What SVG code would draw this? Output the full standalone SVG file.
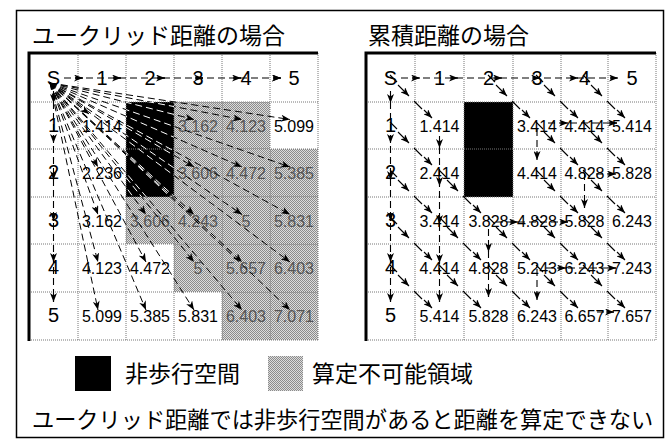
<svg xmlns="http://www.w3.org/2000/svg" xmlns:xlink="http://www.w3.org/1999/xlink" width="669" height="440" viewBox="0 0 669 440">
<style>
.jp{font-family:"Noto Sans CJK JP",sans-serif;fill:#000}
.lbl{font-family:"Liberation Sans",Arial,sans-serif;font-size:20px;text-anchor:middle;fill:#000}
.num{font-family:"Liberation Sans",Arial,sans-serif;font-size:16px;text-anchor:middle;fill:#000}
.g{fill:#555}
.dot{stroke:#777;stroke-width:1;stroke-dasharray:1 1;fill:none}
.thick{stroke:#000;stroke-width:3;fill:none}
.dash{stroke:#000;stroke-width:1.1;stroke-dasharray:7 4;fill:none}
.ah{stroke:#000;stroke-width:1.1;fill:none;marker-end:url(#ah)}
.sol{stroke:#000;stroke-width:1.1;fill:none}
</style>
<defs>
<marker id="ah" viewBox="0 0 9 7" refX="9" refY="3.5" markerWidth="9" markerHeight="7" markerUnits="userSpaceOnUse" orient="auto"><path d="M0,0 L9,3.5 L0,7 L2.5,3.5 Z" fill="#000"/></marker>
<pattern id="gp" width="2" height="2" patternUnits="userSpaceOnUse"><rect width="2" height="2" fill="#dcdcdc"/><rect width="1" height="1" fill="#8c8c8c"/><rect x="1" y="1" width="1" height="1" fill="#8c8c8c"/></pattern>
<clipPath id="blkL"><rect x="126" y="102" width="48" height="95"/></clipPath>
<g id="dg">
<path class="sol" d="M-25-27L-18-20M-1-1L7 7"/>
<path class="ah" d="M-17-17L-6-6"/>
<path class="ah" d="M9 8L17 16"/>
</g>
</defs>

<rect x="16.5" y="10.5" width="647" height="427" fill="#fff" stroke="#000" stroke-width="1.5"/>

<g id="titles">
<text class="jp" x="32" y="44" font-size="23">ユークリッド距離の場合</text>
<text class="jp" x="368" y="44" font-size="23">累積距離の場合</text>
</g>

<!-- LEFT GRID : Euclidean -->
<g id="left-unreachable" fill="url(#gp)">
<rect x="174" y="102" width="96" height="47"/>
<rect x="174" y="149" width="144" height="48"/>
<rect x="126" y="197" width="192" height="47"/>
<rect x="174" y="244" width="144" height="48"/>
<rect x="222" y="292" width="96" height="48"/>
</g>
<g id="left-obstacle"><rect x="126" y="102" width="48" height="95" fill="#000"/></g>
<g id="left-grid">
<path class="dot" d="M78 53V340M126 53V340M174 53V340M222 53V340M270 53V340M318 53V340M29 102H318M29 149H318M29 197H318M29 244H318M29 292H318M29 340H318"/>
<path class="thick" d="M29 51.5V341M29 53H318"/>
</g>
<g id="left-labels">
<g id="L-S"><text class="lbl" x="53.5" y="85">S</text></g>
<g id="L-c1"><text class="lbl" x="102" y="85">1</text></g>
<g id="L-c2"><text class="lbl" x="150" y="85">2</text></g>
<g id="L-c3"><text class="lbl" x="198" y="85">3</text></g>
<g id="L-c4"><text class="lbl" x="246" y="85">4</text></g>
<g id="L-c5"><text class="lbl" x="294" y="85">5</text></g>
<g id="L-r1"><text class="lbl" x="53.5" y="131.5">1</text></g>
<g id="L-r2"><text class="lbl" x="53.5" y="179">2</text></g>
<g id="L-r3"><text class="lbl" x="53.5" y="226.5">3</text></g>
<g id="L-r4"><text class="lbl" x="53.5" y="274">4</text></g>
<g id="L-r5"><text class="lbl" x="53.5" y="322">5</text></g>
</g>
<g id="left-values">
<g id="L11"><text class="num" x="102" y="131.5">1.414</text></g>
<g id="L13"><text class="num g" x="198" y="131.5">3.162</text></g>
<g id="L14"><text class="num g" x="246" y="131.5">4.123</text></g>
<g id="L15"><text class="num" x="294" y="131.5">5.099</text></g>
<g id="L21"><text class="num" x="102" y="179">2.236</text></g>
<g id="L23"><text class="num g" x="198" y="179">3.606</text></g>
<g id="L24"><text class="num g" x="246" y="179">4.472</text></g>
<g id="L25"><text class="num g" x="294" y="179">5.385</text></g>
<g id="L31"><text class="num" x="102" y="226.5">3.162</text></g>
<g id="L32"><text class="num g" x="150" y="226.5">3.606</text></g>
<g id="L33"><text class="num g" x="198" y="226.5">4.243</text></g>
<g id="L34"><text class="num g" x="246" y="226.5">5</text></g>
<g id="L35"><text class="num g" x="294" y="226.5">5.831</text></g>
<g id="L41"><text class="num" x="102" y="274">4.123</text></g>
<g id="L42"><text class="num" x="150" y="274">4.472</text></g>
<g id="L43"><text class="num g" x="198" y="274">5</text></g>
<g id="L44"><text class="num g" x="246" y="274">5.657</text></g>
<g id="L45"><text class="num g" x="294" y="274">6.403</text></g>
<g id="L51"><text class="num" x="102" y="322">5.099</text></g>
<g id="L52"><text class="num" x="150" y="322">5.385</text></g>
<g id="L53"><text class="num" x="198" y="322">5.831</text></g>
<g id="L54"><text class="num g" x="246" y="322">6.403</text></g>
<g id="L55"><text class="num g" x="294" y="322">7.071</text></g>
</g>

<!-- RIGHT GRID : cumulative -->
<g id="right-obstacle"><rect x="464" y="102" width="49" height="95" fill="#000"/></g>
<g id="right-grid">
<path class="dot" d="M415 53V340M464 53V340M513 53V340M561 53V340M608 53V340M656 53V340M366 102H656M366 149H656M366 197H656M366 244H656M366 292H656M366 340H656"/>
<path class="thick" d="M366 51.5V341M366 53H656"/>
</g>
<g id="right-labels">
<g id="R-S"><text class="lbl" x="390.5" y="85">S</text></g>
<g id="R-c1"><text class="lbl" x="439.5" y="85">1</text></g>
<g id="R-c2"><text class="lbl" x="488.5" y="85">2</text></g>
<g id="R-c3"><text class="lbl" x="537" y="85">3</text></g>
<g id="R-c4"><text class="lbl" x="584.5" y="85">4</text></g>
<g id="R-c5"><text class="lbl" x="632" y="85">5</text></g>
<g id="R-r1"><text class="lbl" x="390.5" y="131.5">1</text></g>
<g id="R-r2"><text class="lbl" x="390.5" y="179">2</text></g>
<g id="R-r3"><text class="lbl" x="390.5" y="226.5">3</text></g>
<g id="R-r4"><text class="lbl" x="390.5" y="274">4</text></g>
<g id="R-r5"><text class="lbl" x="390.5" y="322">5</text></g>
</g>
<g id="right-values">
<g id="R11"><text class="num" x="439.5" y="131.5">1.414</text></g>
<g id="R13"><text class="num" x="537" y="131.5">3.414</text></g>
<g id="R14"><text class="num" x="584.5" y="131.5">4.414</text></g>
<g id="R15"><text class="num" x="632" y="131.5">5.414</text></g>
<g id="R21"><text class="num" x="439.5" y="179">2.414</text></g>
<g id="R23"><text class="num" x="537" y="179">4.414</text></g>
<g id="R24"><text class="num" x="584.5" y="179">4.828</text></g>
<g id="R25"><text class="num" x="632" y="179">5.828</text></g>
<g id="R31"><text class="num" x="439.5" y="226.5">3.414</text></g>
<g id="R32"><text class="num" x="488.5" y="226.5">3.828</text></g>
<g id="R33"><text class="num" x="537" y="226.5">4.828</text></g>
<g id="R34"><text class="num" x="584.5" y="226.5">5.828</text></g>
<g id="R35"><text class="num" x="632" y="226.5">6.243</text></g>
<g id="R41"><text class="num" x="439.5" y="274">4.414</text></g>
<g id="R42"><text class="num" x="488.5" y="274">4.828</text></g>
<g id="R43"><text class="num" x="537" y="274">5.243</text></g>
<g id="R44"><text class="num" x="584.5" y="274">6.243</text></g>
<g id="R45"><text class="num" x="632" y="274">7.243</text></g>
<g id="R51"><text class="num" x="439.5" y="322">5.414</text></g>
<g id="R52"><text class="num" x="488.5" y="322">5.828</text></g>
<g id="R53"><text class="num" x="537" y="322">6.243</text></g>
<g id="R54"><text class="num" x="584.5" y="322">6.657</text></g>
<g id="R55"><text class="num" x="632" y="322">7.657</text></g>
</g>

<g id="connectors">
<!-- left: straight rays from S -->
<g stroke="#000">
<g id="rays" fill="none" stroke-width="1" stroke-dasharray="7 4" marker-end="url(#ah)">
<path d="M50 83L89 114"/>
<path d="M50 83L194 119.5"/><path d="M50 83L242 119.5"/><path d="M50 83L290 119.5"/>
<path d="M50 83L98 167"/><path d="M50 83L194 167"/><path d="M50 83L242 167"/><path d="M50 83L290 167"/>
<path d="M50 83L98 214.5"/><path d="M50 83L146 214.5"/><path d="M50 83L194 214.5"/><path d="M50 83L242 214.5"/><path d="M50 83L290 214.5"/>
<path d="M50 83L98 262"/><path d="M50 83L146 262"/><path d="M50 83L194 262"/><path d="M50 83L242 262"/><path d="M50 83L290 262"/>
<path d="M50 83L98 310"/><path d="M50 83L146 310"/><path d="M50 83L194 310"/><path d="M50 83L242 310"/><path d="M50 83L290 310"/>
</g>
</g>
<use xlink:href="#rays" href="#rays" stroke="#fff" clip-path="url(#blkL)"/>
<!-- left row 0 / col 0 -->
<path class="dash" d="M64 78H281M53.5 91V302"/>
<path class="ah" d="M75 78H83M113 78H121M157 78H165M195 78H203M233 78H241M273 78H281"/>
<g class="ah">
<path d="M75 78H83"/><path d="M113 78H121"/><path d="M157 78H165"/><path d="M195 78H203"/><path d="M233 78H241"/><path d="M273 78H281"/>
<path d="M53.5 95V103"/><path d="M53.5 135V143"/><path d="M53.5 172V180"/><path d="M53.5 213V221"/><path d="M53.5 254V262"/><path d="M53.5 294V302"/>
</g>
<!-- right row 0 / col 0 -->
<path class="dash" d="M401 78H618M390.5 91V302"/>
<g class="ah">
<path d="M412 78H420"/><path d="M450 78H458"/><path d="M494 78H502"/><path d="M532 78H540"/><path d="M570 78H578"/><path d="M610 78H618"/>
<path d="M390.5 95V103"/><path d="M390.5 135V143"/><path d="M390.5 172V180"/><path d="M390.5 213V221"/><path d="M390.5 254V262"/><path d="M390.5 294V302"/>
</g>
<!-- right diagonals -->
<use href="#dg" xlink:href="#dg" x="415" y="102"/>
<use href="#dg" xlink:href="#dg" x="513" y="102"/>
<use href="#dg" xlink:href="#dg" x="561" y="102"/>
<use href="#dg" xlink:href="#dg" x="608" y="102"/>
<use href="#dg" xlink:href="#dg" x="415" y="149"/>
<use href="#dg" xlink:href="#dg" x="561" y="149"/>
<use href="#dg" xlink:href="#dg" x="608" y="149"/>
<use href="#dg" xlink:href="#dg" x="415" y="197"/>
<use href="#dg" xlink:href="#dg" x="464" y="197"/>
<use href="#dg" xlink:href="#dg" x="561" y="197"/>
<use href="#dg" xlink:href="#dg" x="608" y="197"/>
<use href="#dg" xlink:href="#dg" x="415" y="244"/>
<use href="#dg" xlink:href="#dg" x="464" y="244"/>
<use href="#dg" xlink:href="#dg" x="513" y="244"/>
<use href="#dg" xlink:href="#dg" x="561" y="244"/>
<use href="#dg" xlink:href="#dg" x="608" y="244"/>
<use href="#dg" xlink:href="#dg" x="415" y="292"/>
<use href="#dg" xlink:href="#dg" x="464" y="292"/>
<use href="#dg" xlink:href="#dg" x="513" y="292"/>
<use href="#dg" xlink:href="#dg" x="561" y="292"/>
<use href="#dg" xlink:href="#dg" x="608" y="292"/>
<!-- right vertical / horizontal -->
<path class="dash" d="M439.5 136V302M488.5 229V297M537 129V160M537 269V300M584.5 173V208M548 123H617M596 174H616M496 222H568M546 268H616M597 312H614"/>
<g class="ah">
<path d="M439.5 140V148"/><path d="M439.5 178V186"/><path d="M439.5 216V224"/><path d="M439.5 255V263"/><path d="M439.5 294V302"/>
<path d="M488.5 244V252"/><path d="M488.5 289V297"/>
<path d="M537 152V160"/><path d="M537 292V300"/>
<path d="M584.5 200V208"/>
<path d="M560 123H568"/><path d="M609 123H617"/>
<path d="M608 174H616"/>
<path d="M510 222H518"/><path d="M560 222H568"/>
<path d="M558 268H566"/><path d="M608 268H616"/>
<path d="M606 312H614"/>
</g>
</g>

<g id="legend">
<g id="legend-obstacle"><rect x="75" y="356" width="36" height="35" fill="#000"/><text class="jp" x="125" y="382" font-size="23">非歩行空間</text></g>
<g id="legend-unreachable"><rect x="268" y="356" width="35" height="35" fill="url(#gp)"/><text class="jp" x="312" y="382" font-size="23">算定不可能領域</text></g>
</g>
<g id="caption"><text class="jp" x="32" y="427.5" font-size="22.2">ユークリッド距離では非歩行空間があると距離を算定できない</text></g>
</svg>
